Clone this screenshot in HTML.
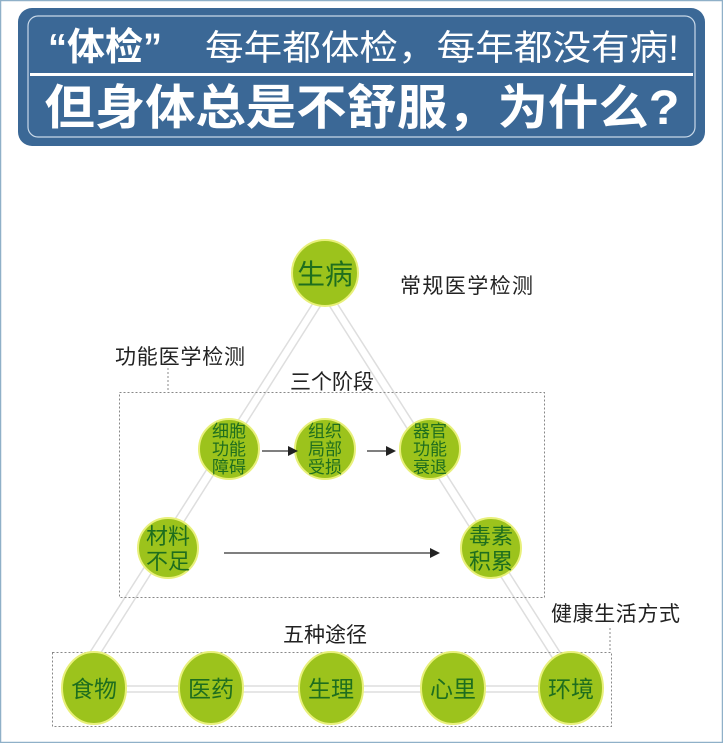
<!DOCTYPE html>
<html><head><meta charset="utf-8"><style>
html,body{margin:0;padding:0;background:#fff}
svg{display:block}
text{font-family:"Liberation Sans","Noto Sans CJK SC",sans-serif}
</style></head><body>
<svg width="723" height="743" viewBox="0 0 723 743" xmlns="http://www.w3.org/2000/svg">
<rect x="0.5" y="0.5" width="722" height="742" fill="#fff" stroke="#8fb0c8" stroke-width="1.5"/>
<rect x="18" y="8" width="687" height="138" rx="14" fill="#3b6896"/>
<rect x="28" y="16" width="667" height="121" rx="10" fill="none" stroke="#c8d8e8" stroke-width="1.2"/>
<text x="48" y="60" font-size="38" font-weight="bold" fill="#fff" font-family="'Noto Sans CJK SC',sans-serif">“体检”</text>
<text x="205" y="60" font-size="35" fill="#fff" font-family="'Noto Sans CJK SC',sans-serif" textLength="474" lengthAdjust="spacingAndGlyphs">每年都体检，每年都没有病!</text>
<rect x="30" y="73" width="663" height="3" fill="#fff"/>
<text x="362" y="124" font-size="48" font-weight="bold" fill="#fff" text-anchor="middle" font-family="'Noto Serif CJK SC',serif" textLength="635" lengthAdjust="spacingAndGlyphs">但身体总是不舒服，为什么?</text>

<g stroke="#dedede" stroke-width="1.5" fill="none">
<line x1="315" y1="300" x2="85" y2="660"/><line x1="323" y1="302" x2="95" y2="662"/>
<line x1="335" y1="300" x2="565" y2="660"/><line x1="327" y1="302" x2="555" y2="662"/>
<line x1="94" y1="686" x2="571" y2="686"/><line x1="94" y1="692" x2="571" y2="692"/>
</g>
<g stroke="#888" stroke-width="1" fill="none" stroke-dasharray="2,2">
<rect x="119.5" y="392.5" width="425" height="205"/>
<rect x="52.5" y="652.5" width="559" height="74"/>
<line x1="168" y1="368" x2="168" y2="392"/>
<line x1="610" y1="628" x2="610" y2="652"/>
</g>

<g fill="#9cc31c" stroke="#e8f07a" stroke-width="2">
<circle cx="325" cy="273" r="33"/>
<circle cx="229" cy="449" r="30"/>
<circle cx="325" cy="449" r="30"/>
<circle cx="430" cy="449" r="30"/>
<circle cx="168" cy="548" r="30"/>
<circle cx="491" cy="548" r="30"/>
<ellipse cx="94" cy="688" rx="32" ry="36"/>
<ellipse cx="211" cy="688" rx="32" ry="36"/>
<ellipse cx="331" cy="688" rx="32" ry="36"/>
<ellipse cx="453" cy="688" rx="32" ry="36"/>
<ellipse cx="571" cy="688" rx="32" ry="36"/>
</g>
<g fill="#1e6e1e" text-anchor="middle">
<text x="325" y="284" font-size="28">生病</text>
<text x="229" y="437" font-size="17">细胞</text><text x="229" y="455" font-size="17">功能</text><text x="229" y="473" font-size="17">障碍</text>
<text x="325" y="437" font-size="17">组织</text><text x="325" y="455" font-size="17">局部</text><text x="325" y="473" font-size="17">受损</text>
<text x="430" y="437" font-size="17">器官</text><text x="430" y="455" font-size="17">功能</text><text x="430" y="473" font-size="17">衰退</text>
<text x="168" y="544" font-size="22">材料</text><text x="168" y="569" font-size="22">不足</text>
<text x="491" y="544" font-size="22">毒素</text><text x="491" y="569" font-size="22">积累</text>
<text x="94" y="697" font-size="23">食物</text>
<text x="211" y="697" font-size="23">医药</text>
<text x="331" y="697" font-size="23">生理</text>
<text x="453" y="697" font-size="23">心里</text>
<text x="571" y="697" font-size="23">环境</text>
</g>
<g stroke="#333" stroke-width="1.3" fill="#222">
<line x1="262" y1="451" x2="290" y2="451"/><polygon points="298,451 288,446 288,456" stroke="none"/>
<line x1="367" y1="451" x2="388" y2="451"/><polygon points="396,451 386,446 386,456" stroke="none"/>
<line x1="224" y1="553" x2="432" y2="553"/><polygon points="440,553 430,548 430,558" stroke="none"/>
</g>
<g fill="#222" font-size="21">
<text x="400" y="293" textLength="133">常规医学检测</text>
<text x="115" y="364" textLength="130">功能医学检测</text>
<text x="332" y="389" text-anchor="middle">三个阶段</text>
<text x="325" y="642" text-anchor="middle">五种途径</text>
<text x="551" y="621" textLength="129">健康生活方式</text>
</g>
</svg>
</body></html>
